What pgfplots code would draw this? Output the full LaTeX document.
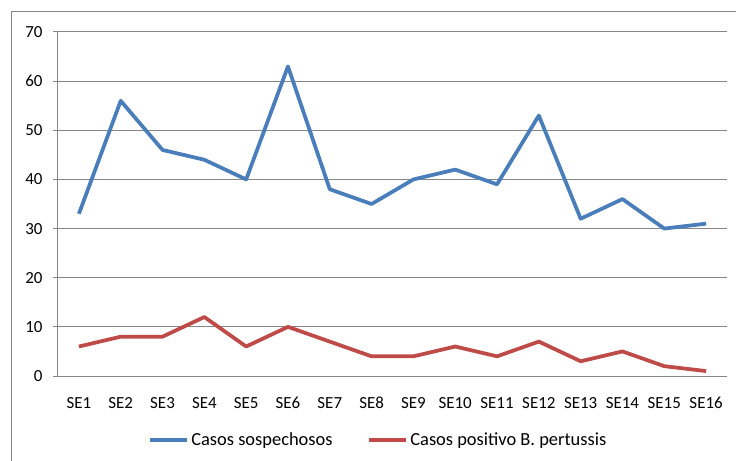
\documentclass[border=0pt]{standalone}
\usepackage{pgfplots}
\pgfplotsset{compat=1.18}
\usepackage{fontspec}
\setmainfont{Carlito}
\definecolor{blueline}{HTML}{4A7EBB}
\definecolor{redline}{HTML}{BE4B48}
\definecolor{gridgray}{HTML}{868686}
\begin{document}
\begin{tikzpicture}
\useasboundingbox (0bp,0bp) rectangle (736bp,461bp);
\draw[gridgray, line width=1bp] (11bp,0bp) -- (11bp,449bp) -- (736bp,449bp);
\begin{axis}[
  at={(58bp,85bp)}, anchor=south west,
  width=669bp, height=344bp, scale only axis,
  xmin=0.5, xmax=16.5, ymin=0, ymax=70,
  ytick={0,10,...,70},
  xtick={1,...,16},
  xticklabels={SE1,SE2,SE3,SE4,SE5,SE6,SE7,SE8,SE9,SE10,SE11,SE12,SE13,SE14,SE15,SE16},
  ymajorgrids, grid style={gridgray, line width=1bp},
  axis x line*=bottom, axis y line*=left,
  axis line style={gridgray, line width=1bp, -},
  tick align=outside,
  major tick length=5bp,
  xtick style={draw=none},
  minor xtick={0.5,1.5,...,16.5},
  minor tick length=5bp,
  minor tick style={gridgray, line width=1bp},
  ytick style={gridgray, line width=1bp},
  tick label style={font=\fontsize{17}{20}\selectfont, text=black},
  /pgf/number format/assume math mode=true,
  yticklabel style={xshift=-7bp},
  xticklabel style={yshift=-12.5bp},
  legend style={at={(0.479,-0.186)}, anchor=center, draw=none, fill=none,
    legend columns=2, font=\fontsize{18.5}{21}\selectfont,
    nodes={inner sep=2bp},
    /tikz/every even column/.append style={column sep=33bp}},
  legend image code/.code={\draw[#1] (0bp,0bp) -- (37bp,0bp);},
]
\addplot[blueline, line width=3.75bp, line join=round] coordinates {
(1,33) (2,56) (3,46) (4,44) (5,40) (6,63) (7,38) (8,35)
(9,40) (10,42) (11,39) (12,53) (13,32) (14,36) (15,30) (16,31)};
\addlegendentry{Casos sospechosos}
\addplot[redline, line width=3.75bp, line join=round] coordinates {
(1,6) (2,8) (3,8) (4,12) (5,6) (6,10) (7,7) (8,4)
(9,4) (10,6) (11,4) (12,7) (13,3) (14,5) (15,2) (16,1)};
\addlegendentry{Casos positivo B. pertussis}
\end{axis}
\end{tikzpicture}
\end{document}
